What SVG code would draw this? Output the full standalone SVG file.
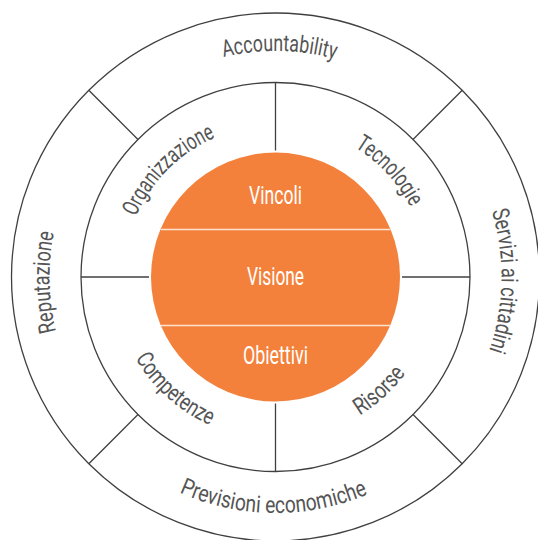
<svg xmlns="http://www.w3.org/2000/svg" xmlns:xlink="http://www.w3.org/1999/xlink" width="538" height="540" viewBox="0 0 538 540">
  <style>
    .ring { fill: none; stroke: #404040; stroke-width: 1.3; }
    .spoke { stroke: #404040; stroke-width: 1.3; fill: none; }
    .lbl { font-family: Roboto, "Liberation Sans", sans-serif; font-weight: 400; font-size: 23.5px; fill: #555555; }
    .core { font-family: Roboto, "Liberation Sans", sans-serif; font-weight: 400; font-size: 26.5px; fill: #ffffff; text-anchor: middle; }
    .divider { stroke: #fbe3d2; stroke-width: 1.4; }
  </style>
  <defs>
    <path id="pOuterTop" d="M49.5,277 A226,226 0 0 1 501.5,277"/>
    <path id="pOuterBot" d="M39.5,277 A236,236 0 0 0 511.5,277"/>
    <path id="pMidTop" d="M123.5,277 A152,152 0 0 1 427.5,277"/>
    <path id="pMidBot" d="M113.5,277 A162,162 0 0 0 437.5,277"/>
  </defs>
  <rect width="538" height="540" fill="#ffffff"/>

  <g id="rings">
    <circle class="ring" cx="275.5" cy="277" r="264"/>
    <circle class="ring" cx="275.5" cy="277" r="194.5"/>
  </g>

  <g id="connectors">
    <line class="spoke" x1="275.5" y1="82.5" x2="275.5" y2="150.5"/>
    <line class="spoke" x1="275.5" y1="403.5" x2="275.5" y2="471.5"/>
    <line class="spoke" x1="81" y1="277" x2="149" y2="277"/>
    <line class="spoke" x1="402" y1="277" x2="470" y2="277"/>
    <line class="spoke" x1="138" y1="139.5" x2="88.8" y2="90.3"/>
    <line class="spoke" x1="413" y1="139.5" x2="462.2" y2="90.3"/>
    <line class="spoke" x1="138" y1="414.5" x2="88.8" y2="463.7"/>
    <line class="spoke" x1="413" y1="414.5" x2="462.2" y2="463.7"/>
  </g>

  <g id="core">
    <circle cx="275.5" cy="277" r="124.5" fill="#f4813b"/>
    <line class="divider" x1="160.6" y1="229.5" x2="390.4" y2="229.5"/>
    <line class="divider" x1="160.6" y1="325.5" x2="390.4" y2="325.5"/>
    <g id="node-vincoli"><text class="core" x="275.5" y="204.3" textLength="53" lengthAdjust="spacingAndGlyphs">Vincoli</text></g>
    <g id="node-visione"><text class="core" x="275.5" y="284.5" textLength="57" lengthAdjust="spacingAndGlyphs">Visione</text></g>
    <g id="node-obiettivi"><text class="core" x="275.5" y="363.5" textLength="65" lengthAdjust="spacingAndGlyphs">Obiettivi</text></g>
  </g>

  <g id="node-accountability">
    <text class="lbl" transform="rotate(1 275.5 277)"><textPath xlink:href="#pOuterTop" href="#pOuterTop" startOffset="50%" text-anchor="middle" textLength="113" lengthAdjust="spacingAndGlyphs">Accountability</textPath></text>
  </g>
  <g id="node-servizi">
    <text class="lbl" transform="rotate(91 275.5 277)"><textPath xlink:href="#pOuterTop" href="#pOuterTop" startOffset="50%" text-anchor="middle" textLength="142" lengthAdjust="spacingAndGlyphs">Servizi ai cittadini</textPath></text>
  </g>
  <g id="node-reputazione">
    <text class="lbl" transform="rotate(-91.3 275.5 277)"><textPath xlink:href="#pOuterTop" href="#pOuterTop" startOffset="50%" text-anchor="middle" textLength="100" lengthAdjust="spacingAndGlyphs">Reputazione</textPath></text>
  </g>
  <g id="node-previsioni">
    <text class="lbl" transform="rotate(0.5 275.5 277)"><textPath xlink:href="#pOuterBot" href="#pOuterBot" startOffset="50%" text-anchor="middle" textLength="194" lengthAdjust="spacingAndGlyphs">Previsioni economiche</textPath></text>
  </g>
  <g id="node-organizzazione">
    <text class="lbl" transform="rotate(-45 275.5 277)"><textPath xlink:href="#pMidTop" href="#pMidTop" startOffset="50%" text-anchor="middle" textLength="115" lengthAdjust="spacingAndGlyphs">Organizzazione</textPath></text>
  </g>
  <g id="node-tecnologie">
    <text class="lbl" transform="rotate(47 275.5 277)"><textPath xlink:href="#pMidTop" href="#pMidTop" startOffset="50%" text-anchor="middle" textLength="83" lengthAdjust="spacingAndGlyphs">Tecnologie</textPath></text>
  </g>
  <g id="node-competenze">
    <text class="lbl" transform="rotate(41.9 275.5 277)"><textPath xlink:href="#pMidBot" href="#pMidBot" startOffset="50%" text-anchor="middle" textLength="102" lengthAdjust="spacingAndGlyphs">Competenze</textPath></text>
  </g>
  <g id="node-risorse">
    <text class="lbl" transform="rotate(-42.4 275.5 277)"><textPath xlink:href="#pMidBot" href="#pMidBot" startOffset="50%" text-anchor="middle" textLength="63" lengthAdjust="spacingAndGlyphs">Risorse</textPath></text>
  </g>
</svg>
